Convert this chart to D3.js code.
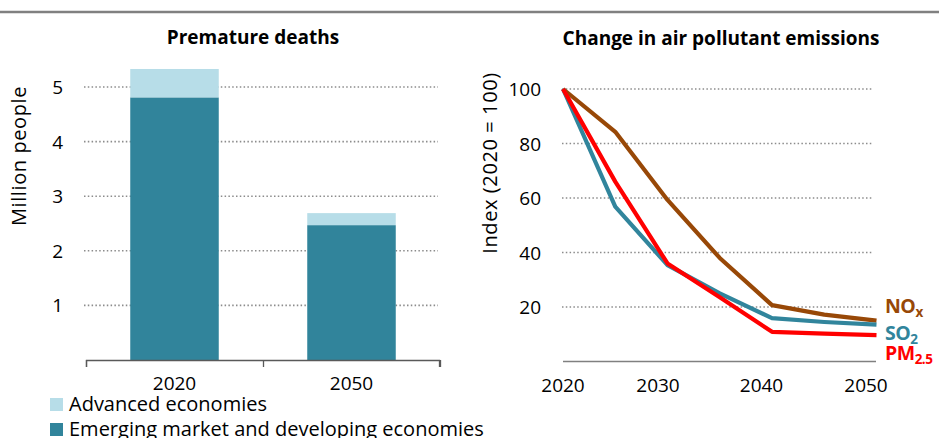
<!DOCTYPE html>
<html><head><meta charset="utf-8">
<script src="https://cdn.jsdelivr.net/npm/d3@7"></script>
<style>
body{margin:0;background:#fff;}
text{font-family:"Open Sans",Lato,sans-serif;fill:#000;}
</style></head>
<body>
<svg id="c" width="939" height="438"></svg>
<script>
// ---- data ----
const barCategories = ["2020", "2050"];
const advancedValues = [0.52, 0.22];
const emergingValues = [4.81, 2.47];
const barTicks = [1, 2, 3, 4, 5];
const barSeriesNames = ["Advanced economies", "Emerging market and developing economies"];

const lineYears = [2020, 2025, 2030, 2035, 2040, 2045, 2050];
const noxValues = [100, 84.3, 59.3, 38, 20.7, 17.2, 15];
const so2Values = [100, 56.8, 35.4, 25, 15.9, 14.5, 13.5];
const pm25Values = [100, 66, 36, 23.6, 10.9, 10.2, 9.7];
const lineTicksY = [20, 40, 60, 80, 100];
const lineTicksX = [2020, 2030, 2040, 2050];

const cDark = "#31849b", cLight = "#b7dde8";
const cNox = "#984807", cSo2 = "#31859c", cPm = "#ff0000";

const svg = d3.select("#c");
svg.append("line").attr("x1",0).attr("x2",939).attr("y1",12).attr("y2",12)
  .attr("stroke","#808080").attr("stroke-width",2.5);

// ---- left: bars ----
const xb = d3.scaleBand().domain(barCategories).range([86,440]).paddingInner(0.5).paddingOuter(0.25);
const yb = d3.scaleLinear().domain([0,5]).range([360,87]);

svg.append("text").attr("x",253).attr("y",44).attr("text-anchor","middle")
  .attr("font-weight","bold").attr("font-size",19).text("Premature deaths");

svg.append("g").selectAll("line").data(barTicks).join("line")
  .attr("x1",84).attr("x2",438).attr("y1",d=>yb(d)).attr("y2",d=>yb(d))
  .attr("stroke","#8c8c8c").attr("stroke-width",1.6).attr("stroke-dasharray","1.5,2.3");

svg.append("g").selectAll("text").data(barTicks).join("text")
  .attr("x",63).attr("y",d=>yb(d)+7).attr("text-anchor","end").attr("font-size",19).text(d=>d);

svg.append("text").attr("transform","translate(26,156) rotate(-90)").attr("text-anchor","middle")
  .attr("font-size",20).attr("letter-spacing",0.6).text("Million people");

const bars = svg.append("g");
barCategories.forEach((c,i)=>{
  bars.append("rect").attr("x",xb(c)).attr("width",xb.bandwidth())
    .attr("y",yb(emergingValues[i])).attr("height",yb(0)-yb(emergingValues[i])).attr("fill",cDark);
  bars.append("rect").attr("x",xb(c)).attr("width",xb.bandwidth())
    .attr("y",yb(emergingValues[i]+advancedValues[i])).attr("height",yb(emergingValues[i])-yb(emergingValues[i]+advancedValues[i]))
    .attr("fill",cLight);
});

const xAxisB = d3.axisBottom(d3.scalePoint().domain(["a","b","c"]).range([86,440])).tickSize(7).tickFormat("");
const gxb = svg.append("g").attr("transform","translate(0,360)").call(xAxisB);
gxb.select(".domain").attr("stroke","#595959").attr("stroke-width",1.3).attr("d","M86.5,7V0.5H439.5V7");
gxb.selectAll(".tick line").attr("stroke","#595959").attr("stroke-width",1.3);
svg.append("g").selectAll("text").data(barCategories).join("text")
  .attr("x",d=>xb(d)+xb.bandwidth()/2).attr("y",390).attr("text-anchor","middle").attr("font-size",19).text(d=>d);

// legend
const lg = svg.append("g");
[cLight, cDark].forEach((col,i)=>{
  lg.append("rect").attr("x",50).attr("y",398+i*25).attr("width",13).attr("height",13).attr("fill",col);
  lg.append("text").attr("x",69).attr("y",411+i*25).attr("font-size",20).text(barSeriesNames[i]);
});

// ---- right: lines ----
const xl = d3.scaleLinear().domain([2020,2050]).range([563,876.5]);
const yl = d3.scaleLinear().domain([0,100]).range([361.5,89]);

svg.append("text").attr("x",721).attr("y",45).attr("text-anchor","middle")
  .attr("font-weight","bold").attr("font-size",19).text("Change in air pollutant emissions");

svg.append("g").selectAll("line").data(lineTicksY).join("line")
  .attr("x1",562).attr("x2",873).attr("y1",d=>yl(d)).attr("y2",d=>yl(d))
  .attr("stroke","#8c8c8c").attr("stroke-width",1.6).attr("stroke-dasharray","1.5,2.3");

svg.append("g").selectAll("text").data(lineTicksY).join("text")
  .attr("x",541).attr("y",d=>yl(d)+7).attr("text-anchor","end").attr("font-size",19).text(d=>d);

svg.append("text").attr("transform","translate(497,163) rotate(-90)").attr("text-anchor","middle")
  .attr("font-size",20).attr("letter-spacing",0.6).text("Index (2020 = 100)");

svg.append("line").attr("x1",563).attr("x2",876).attr("y1",361.5).attr("y2",361.5)
  .attr("stroke","#808080").attr("stroke-width",1.6);

const labelShift = [0,-9.5,-10.5,-10.5];
svg.append("g").selectAll("text").data(lineTicksX).join("text")
  .attr("x",(d,i)=>xl(d)+labelShift[i]).attr("y",392).attr("text-anchor","middle").attr("font-size",19).text(d=>d);

const line = d3.line().x((d,i)=>xl(lineYears[i])).y(d=>yl(d));
[[noxValues,cNox],[so2Values,cSo2],[pm25Values,cPm]].forEach(([vals,col])=>{
  svg.append("path").attr("d",line(vals)).attr("fill","none").attr("stroke",col)
    .attr("stroke-width",4.2).attr("stroke-linejoin","round");
});

const labs = [
  {main:"NO", sub:"x", col:cNox, y:313},
  {main:"SO", sub:"2", col:cSo2, y:340},
  {main:"PM", sub:"2.5", col:cPm, y:360}
];
labs.forEach(l=>{
  const t = svg.append("text").attr("x",885).attr("y",l.y).attr("font-weight","bold").attr("font-size",19.5).attr("letter-spacing",-0.5);
  t.append("tspan").attr("fill",l.col).style("fill",l.col).text(l.main);
  t.append("tspan").attr("fill",l.col).style("fill",l.col).attr("font-size",13.5).attr("dy",4).text(l.sub);
});
</script>
</body></html>
